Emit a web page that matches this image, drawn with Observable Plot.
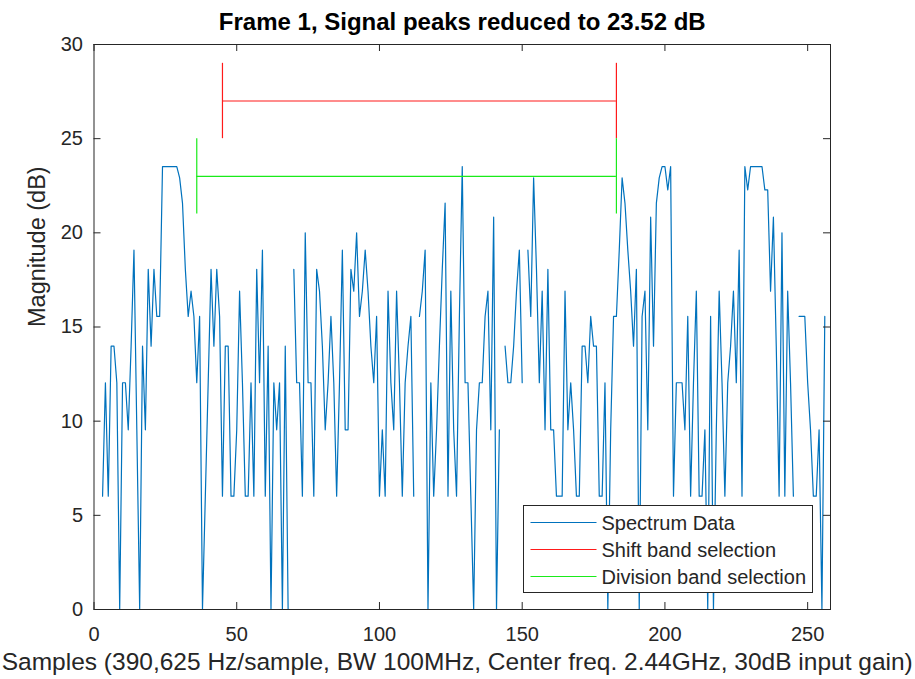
<!DOCTYPE html>
<html>
<head>
<meta charset="utf-8">
<script src="https://cdn.jsdelivr.net/npm/d3@7"></script>
<script src="https://cdn.jsdelivr.net/npm/@observablehq/plot@0.6"></script>
<style>
  html, body { margin: 0; padding: 0; background: #fff; }
  #chart svg { display: block; }
</style>
</head>
<body>
<div id="chart"></div>
<script>
// Spectrum magnitude per sample (dB), samples 1..256; null = no value (-Inf dB)
const magnitudeDb = [
  null, null, 6.02, 12.04, 6.02, 13.98, 13.98, 12.04, 0, 12.04,
  12.04, 9.54, 13.98, 19.08, 9.54, 0, 13.98, 9.54, 18.06, 13.98,
  18.06, 15.56, 15.56, 23.52, 23.52, 23.52, 23.52, 23.52, 23.52, 22.92,
  21.58, 18.06, 15.56, 16.9, 15.56, 12.04, 15.56, 0, 6.02, 12.04,
  18.06, 13.98, 18.06, 15.56, 6.02, 13.98, 13.98, 6.02, 6.02, 9.54,
  16.9, 12.04, 6.02, 6.02, 12.04, 6.02, 18.06, 12.04, 19.08, 6.02,
  13.98, 0, 12.04, 9.54, 12.04, 0, 13.98, 0, null, 18.06,
  12.04, 12.04, 6.02, 20, 12.04, 12.04, 6.02, 18.06, 16.9, 13.98,
  9.54, 12.04, 15.56, 12.04, 6.02, 12.04, 19.08, 9.54, 9.54, 18.06,
  16.9, 20, 15.56, 16.9, 19.08, 16.9, 13.98, 12.04, 15.56, 6.02,
  9.54, 6.02, 16.9, 12.04, 9.54, 16.9, 12.04, 6.02, 12.04, 13.98,
  15.56, 6.02, null, 15.56, 16.9, 19.08, 0, 12.04, 6.02, 9.54,
  13.98, 18.06, 21.58, 6.02, 16.9, 9.54, 6.02, 15.56, 23.52, 12.04,
  12.04, 6.02, 0, 9.54, 12.04, 12.04, 15.56, 16.9, 9.54, 20.83,
  0, 9.54, null, 13.98, 12.04, 12.04, 13.98, 16.9, 19.08, 12.04,
  null, 19.08, 15.56, 22.92, 18.06, 12.04, 16.9, 9.54, 18.06, 9.54,
  9.54, 6.02, 6.02, 6.02, 16.9, 9.54, 12.04, 9.54, 6.02, 6.02,
  13.98, 13.98, 12.04, 15.56, 13.98, 13.98, 6.02, 6.02, 12.04, 0,
  9.54, 15.56, 15.56, 19.08, 22.92, 21.58, 19.08, 16.9, 13.98, 18.06,
  0, 15.56, 16.9, 9.54, 20.83, 13.98, 21.58, 22.92, 23.52, 23.52,
  22.28, 23.52, 6.02, 12.04, 12.04, 12.04, 9.54, 15.56, 6.02, 12.04,
  16.9, 6.02, 6.02, 9.54, 0, 15.56, 0, 9.54, 16.9, 12.04,
  6.02, 12.04, 13.98, 16.9, 12.04, 19.08, 6.02, 23.52, 22.28, 23.52,
  23.52, 23.52, 23.52, 23.52, 22.28, 22.28, 16.9, 20.83, 13.98, 6.02,
  20, 6.02, 16.9, 12.04, 6.02, null, 15.56, 15.56, 15.56, 12.04,
  9.54, 6.02, 6.02, 9.54, 0, 15.56
];

// Peak clipping level reported in the title (dB)
const peakLimitDb = 23.52;
const frameNumber = 1;

// Band selections: sample range, level and half height of the end markers (dB)
const bandNames = ["Shift band selection", "Division band selection"];
const bandStart = [45, 36];
const bandEnd = [183, 183];
const bandLevel = [27, 23];
const bandHalfSpan = [2, 2];

const seriesName = "Spectrum Data";
const xTickValues = [0, 50, 100, 150, 200, 250];
const yTickValues = [0, 5, 10, 15, 20, 25, 30];

const titleText = `Frame ${frameNumber}, Signal peaks reduced to ${peakLimitDb} dB`;
const xLabel = "Samples (390,625 Hz/sample, BW 100MHz, Center freq. 2.44GHz, 30dB input gain)";
const yLabel = "Magnitude (dB)";

// ---- styling ----
const W = 915, H = 679;
const M = {top: 44, right: 85, bottom: 70, left: 93.5};
const plotW = W - M.left - M.right;
const plotH = H - M.top - M.bottom;
const tickLen = 7;
const axisColor = "#262626";
const lineColor = "#0072BD";
const bandColors = ["#ff1a1a", "#1aeb1a"];
const fontFamily = "'Liberation Sans', Arial, Helvetica, sans-serif";

// ---- tables built from the arrays ----
const spectrum = magnitudeDb.map((v, i) => ({sample: i + 1, db: v == null ? NaN : v}));
const bands = bandNames.map((name, i) => ({
  name, start: bandStart[i], end: bandEnd[i], level: bandLevel[i], half: bandHalfSpan[i]
}));
const bandEdges = bands.flatMap(b => [b.start, b.end].map(x => ({
  name: b.name, x, y1: b.level - b.half, y2: b.level + b.half
})));

const chart = Plot.plot({
  width: W,
  height: H,
  marginTop: M.top,
  marginRight: M.right,
  marginBottom: M.bottom,
  marginLeft: M.left,
  style: {fontFamily, background: "#fff", overflow: "visible"},
  x: {domain: [0, 258], axis: null},
  y: {domain: [0, 30], axis: null},
  color: {domain: bandNames, range: bandColors},
  marks: [
    // spectrum trace
    Plot.line(spectrum, {x: "sample", y: "db", stroke: lineColor, strokeWidth: 1.2}),
    // band selections
    Plot.ruleY(bands, {y: "level", x1: "start", x2: "end", stroke: "name", strokeWidth: 1.2}),
    Plot.ruleX(bandEdges, {x: "x", y1: "y1", y2: "y2", stroke: "name", strokeWidth: 1.2}),
    // axes box with inward ticks on all four sides
    Plot.frame({stroke: axisColor, strokeWidth: 1}),
    Plot.tickX(xTickValues, {x: d => d, insetTop: plotH - tickLen, stroke: axisColor}),
    Plot.tickX(xTickValues, {x: d => d, insetBottom: plotH - tickLen, stroke: axisColor}),
    Plot.tickY(yTickValues, {y: d => d, insetRight: plotW - tickLen, stroke: axisColor}),
    Plot.tickY(yTickValues, {y: d => d, insetLeft: plotW - tickLen, stroke: axisColor}),
    // tick labels
    Plot.text(xTickValues, {x: d => d, text: d => String(d), frameAnchor: "bottom", dy: 25,
      lineAnchor: "middle", fontSize: 20, fill: axisColor}),
    Plot.text(yTickValues, {y: d => d, text: d => String(d), frameAnchor: "left", dx: -11,
      textAnchor: "end", lineAnchor: "middle", fontSize: 20, fill: axisColor}),
    // axis labels and title
    Plot.text([xLabel], {text: d => d, frameAnchor: "bottom", dy: 53, dx: -5, lineAnchor: "middle",
      fontSize: 24.5, fill: axisColor}),
    Plot.text([yLabel], {text: d => d, frameAnchor: "left", dx: -57, rotate: -90,
      lineAnchor: "middle", fontSize: 23.5, fill: axisColor}),
    Plot.text([titleText], {text: d => d, frameAnchor: "top", dy: -22, lineAnchor: "middle",
      fontSize: 24, fontWeight: "bold", fill: "#000"})
  ]
});

document.getElementById("chart").appendChild(chart);

// legend box inside the axes, bottom right
const legendEntries = [
  {name: seriesName, color: lineColor},
  ...bands.map((b, i) => ({name: b.name, color: bandColors[i]}))
];
const lg = d3.select(chart).append("g")
  .attr("font-family", fontFamily)
  .attr("text-anchor", "start");
const box = {x: 523.5, y: 505.5, w: 289, h: 87};
lg.append("rect")
  .attr("x", box.x).attr("y", box.y).attr("width", box.w).attr("height", box.h)
  .attr("fill", "#fff").attr("stroke", axisColor).attr("stroke-width", 1);
legendEntries.forEach((e, i) => {
  const cy = box.y + 17 + i * 27;
  lg.append("line")
    .attr("x1", box.x + 7).attr("x2", box.x + 73)
    .attr("y1", cy).attr("y2", cy)
    .attr("stroke", e.color).attr("stroke-width", 1.2);
  lg.append("text")
    .attr("x", box.x + 78).attr("y", cy).attr("dy", "0.35em")
    .attr("text-anchor", "start")
    .attr("font-size", 20).attr("fill", axisColor)
    .text(e.name);
});
</script>
</body>
</html>
